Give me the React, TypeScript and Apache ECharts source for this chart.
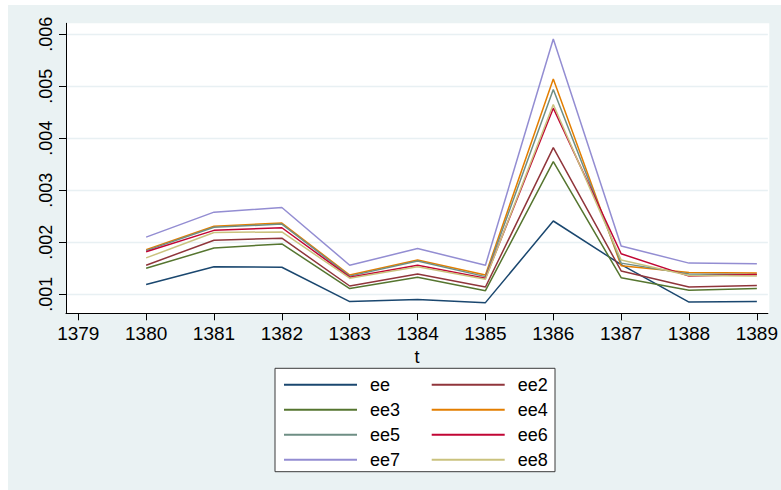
import React, { useEffect, useRef } from "react";
import * as echarts from "echarts";

const years = [1380, 1381, 1382, 1383, 1384, 1385, 1386, 1387, 1388, 1389];
const xTicks = [1379, 1380, 1381, 1382, 1383, 1384, 1385, 1386, 1387, 1388, 1389];
const yTicks = [0.001, 0.002, 0.003, 0.004, 0.005, 0.006];

const ee = [0.00119, 0.00153, 0.00152, 0.00086, 0.0009, 0.00084, 0.00241, 0.00157, 0.00085, 0.00086];
const ee2 = [0.00156, 0.00204, 0.00208, 0.00116, 0.00139, 0.00114, 0.00382, 0.00145, 0.00114, 0.00117];
const ee3 = [0.0015, 0.00189, 0.00197, 0.00111, 0.00133, 0.00107, 0.00355, 0.00132, 0.00108, 0.00111];
const ee4 = [0.00186, 0.00231, 0.00237, 0.00137, 0.00166, 0.00137, 0.00514, 0.00155, 0.00142, 0.00141];
const ee5 = [0.00184, 0.00229, 0.00235, 0.00135, 0.00164, 0.00134, 0.00494, 0.0016, 0.00139, 0.00138];
const ee6 = [0.00182, 0.00223, 0.00228, 0.00133, 0.00156, 0.00131, 0.00458, 0.00178, 0.00135, 0.00138];
const ee7 = [0.0021, 0.00258, 0.00267, 0.00156, 0.00188, 0.00156, 0.00591, 0.00193, 0.0016, 0.00159];
const ee8 = [0.0017, 0.00219, 0.0022, 0.00131, 0.00153, 0.00129, 0.00465, 0.00166, 0.00136, 0.00135];

const seriesNames = ["ee", "ee2", "ee3", "ee4", "ee5", "ee6", "ee7", "ee8"];
const seriesValues = [ee, ee2, ee3, ee4, ee5, ee6, ee7, ee8];
const colors = ["#1A476F", "#90353B", "#55752F", "#E37E00", "#6E8E84", "#C10534", "#938DD2", "#CAC27E"];

const FONT = "'Liberation Sans', Arial, sans-serif";

export default function App() {
  const ref = useRef<HTMLDivElement>(null);
  useEffect(() => {
    if (!ref.current) return;
    const chart = echarts.init(ref.current, undefined, { renderer: "svg" });
    const legendText = {
      fontFamily: FONT,
      fontSize: 18,
      color: "#000",
      lineHeight: 17,
      padding: [0, 0, 0, 8],
    };
    chart.setOption({
      animation: false,
      color: colors,
      graphic: [
        {
          type: "rect",
          z: -100,
          shape: { x: 8, y: 5, width: 773, height: 485 },
          style: { fill: "#EAF2F3" },
        },
        {
          type: "rect",
          z: -90,
          shape: { x: 66, y: 23.3, width: 703.3, height: 290 },
          style: { fill: "#FFFFFF" },
        },
        {
          type: "rect",
          z: -80,
          shape: { x: 275, y: 368.3, width: 280, height: 103.4 },
          style: { fill: "#FFFFFF", stroke: "#3a3a3a", lineWidth: 1 },
        },
      ],
      grid: { left: 66, top: 23.3, width: 703.3, height: 290, containLabel: false },
      xAxis: {
        type: "value",
        min: 1378.819,
        max: 1389.162,
        minInterval: 1,
        maxInterval: 1,
        name: "t",
        nameLocation: "middle",
        nameGap: 28,
        nameTextStyle: { fontFamily: FONT, fontSize: 18, color: "#000" },
        axisLine: { show: true, lineStyle: { color: "#000", width: 1 } },
        axisTick: { show: true, length: 7, lineStyle: { color: "#000" }, customValues: xTicks },
        axisLabel: {
          fontFamily: FONT,
          fontSize: 19,
          color: "#000",
          margin: 11,
          customValues: xTicks,
          formatter: (v: number) => String(Math.round(v)),
        },
        splitLine: { show: false },
      },
      yAxis: {
        type: "value",
        min: 0.000635,
        max: 0.006212,
        minInterval: 0.001,
        maxInterval: 0.001,
        axisLine: { show: true, lineStyle: { color: "#000", width: 1 } },
        axisTick: { show: true, length: 7, lineStyle: { color: "#000" }, customValues: yTicks },
        axisLabel: {
          fontFamily: FONT,
          fontSize: 18,
          color: "#000",
          rotate: 90,
          margin: 11,
          customValues: yTicks,
          formatter: (v: number) => v.toFixed(3).replace(/^0/, ""),
        },
        splitLine: { show: true, lineStyle: { color: "#E8F0F3", width: 1.3 } },
      },
      legend: [
        {
          orient: "vertical",
          left: 284,
          top: 375.8,
          padding: 0,
          itemGap: 7,
          itemWidth: 73,
          itemHeight: 2,
          icon: "rect",
          selectedMode: false,
          data: ["ee", "ee3", "ee5", "ee7"],
          textStyle: legendText,
        },
        {
          orient: "vertical",
          left: 431.7,
          top: 375.8,
          padding: 0,
          itemGap: 7,
          itemWidth: 73,
          itemHeight: 2,
          icon: "rect",
          selectedMode: false,
          data: ["ee2", "ee4", "ee6", "ee8"],
          textStyle: legendText,
        },
      ],
      series: seriesNames.map((name, i) => ({
        name,
        type: "line",
        symbol: "none",
        showSymbol: false,
        clip: false,
        lineStyle: { width: 1.5, color: colors[i] },
        itemStyle: { color: colors[i] },
        data: years.map((y, j) => [y, seriesValues[i][j]]),
      })),
    });
    return () => chart.dispose();
  }, []);
  return (
    <div
      ref={ref}
      style={{ position: "absolute", left: 0, top: 0, width: 781, height: 490, background: "#fff" }}
    />
  );
}
